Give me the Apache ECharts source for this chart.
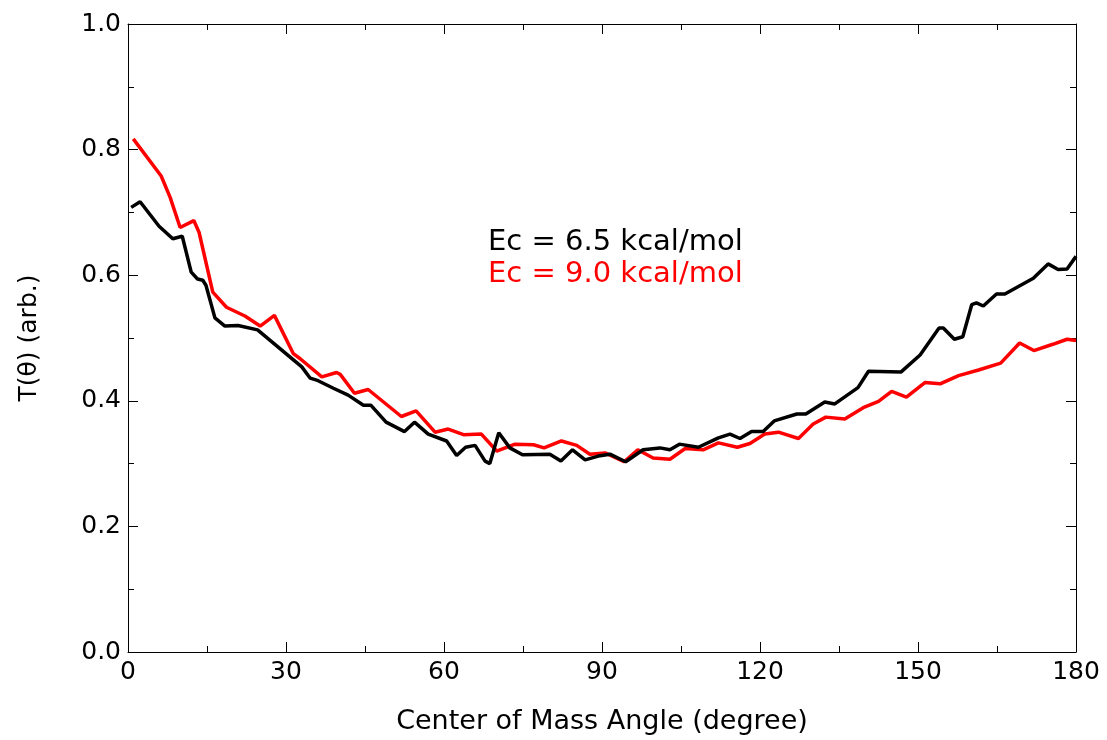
<!DOCTYPE html>
<html>
<head>
<meta charset="utf-8">
<script src="https://cdn.jsdelivr.net/npm/echarts@6/dist/echarts.min.js"></script>
<style>
  html, body { margin: 0; padding: 0; background: #fff; }
  #main { width: 1107px; height: 740px; }
</style>
</head>
<body>
<div id="main"></div>
<script>
// Ec = 6.5 kcal/mol (black)
var angleLow = [0.6, 2.3, 5.9, 8.5, 10.3, 12, 13.2, 14.2, 14.8, 16.5, 18.4, 20.9, 24.6, 33, 34.6, 36.1, 39, 41.8, 44.7, 46.1,
  49, 52.5, 54.4, 57, 60.5, 62.4, 64.1, 65.9, 67.8, 68.7, 70.4, 72.5, 74.9, 80.1, 82.2, 84.4, 86.8, 89.3, 91.5, 94.5,
  97.8, 101, 102.9, 104.7, 108.3, 112.1, 114.3, 116.2, 118.4, 120.6, 122.7, 127, 128.7, 132.3, 134.2, 138.6, 140.6, 146.8,
  150.4, 154, 154.8, 156.9, 158.5, 160.2, 161.1, 162.4, 164.9, 166.5, 171.9, 174.7, 176.6, 178.3, 180];
var tLow = [0.708, 0.717, 0.678, 0.658, 0.662, 0.605, 0.594, 0.592, 0.584, 0.532, 0.519, 0.520, 0.513, 0.454, 0.436, 0.432, 0.420, 0.409, 0.393, 0.393,
  0.366, 0.351, 0.366, 0.347, 0.336, 0.313, 0.326, 0.329, 0.304, 0.300, 0.349, 0.325, 0.314, 0.315, 0.304, 0.322, 0.306, 0.312, 0.315, 0.303,
  0.322, 0.325, 0.322, 0.331, 0.326, 0.341, 0.347, 0.340, 0.351, 0.351, 0.368, 0.379, 0.379, 0.398, 0.395, 0.421, 0.447, 0.446,
  0.473, 0.516, 0.516, 0.498, 0.502, 0.553, 0.556, 0.551, 0.570, 0.570, 0.595, 0.618, 0.609, 0.610, 0.630];

// Ec = 9.0 kcal/mol (red)
var angleHigh = [1.0, 6.3, 8.0, 9.9, 12.5, 13.5, 16.1, 18.7, 22.2, 25.1, 27.8, 31.4, 32.7, 36.8, 39.6, 40.3, 43, 45.6, 51.9, 54.7,
  58.3, 60.8, 63.7, 67.1, 70, 73.5, 77, 79, 82.3, 85.2, 87.7, 90.6, 94.2, 96.8, 99.7, 102.9, 105.8, 109.2, 112.1, 115.7,
  118.1, 120.9, 123.5, 127.3, 130.1, 132.5, 136.1, 139.6, 142.5, 145, 147.8, 151.3, 154.2, 157.7, 161.5, 165.7, 169.3, 172,
  175.6, 178.3, 180];
var tHigh = [0.817, 0.758, 0.724, 0.676, 0.687, 0.668, 0.573, 0.549, 0.535, 0.519, 0.536, 0.475, 0.467, 0.438, 0.445, 0.442, 0.412, 0.418, 0.375, 0.384,
  0.350, 0.355, 0.346, 0.347, 0.320, 0.331, 0.330, 0.325, 0.336, 0.329, 0.315, 0.317, 0.303, 0.322, 0.309, 0.307, 0.324, 0.322, 0.333, 0.326,
  0.332, 0.347, 0.350, 0.340, 0.363, 0.374, 0.371, 0.389, 0.399, 0.415, 0.406, 0.429, 0.427, 0.440, 0.449, 0.460, 0.492, 0.480,
  0.490, 0.498, 0.496];

var labelLow = 'Ec = 6.5 kcal/mol';
var labelHigh = 'Ec = 9.0 kcal/mol';

function pairs(xs, ys) {
  var out = [];
  for (var i = 0; i < xs.length; i++) out.push([xs[i], ys[i]]);
  return out;
}

var font = 'DejaVu Sans';
var chart = echarts.init(document.getElementById('main'));

var tickStyle = { show: true, inside: true, length: 10, lineStyle: { color: '#000', width: 1 } };
var minorStyle = { show: true, splitNumber: 2, length: 6, lineStyle: { color: '#000', width: 1 } };

var option = {
  animation: false,
  grid: { left: 128, right: 31, top: 24, bottom: 85, containLabel: false },
  xAxis: [
    {
      type: 'value', min: 0, max: 180, interval: 30,
      name: 'Center of Mass Angle (degree)', nameLocation: 'middle', nameGap: 56,
      nameTextStyle: { fontFamily: font, fontSize: 27, color: '#000' },
      axisLine: { show: true, lineStyle: { color: '#000', width: 1 } },
      axisTick: tickStyle, minorTick: minorStyle,
      axisLabel: { fontFamily: font, fontSize: 25, color: '#000', margin: 8 },
      splitLine: { show: false }
    },
    {
      type: 'value', min: 0, max: 180, interval: 30, position: 'top',
      axisLine: { show: true, onZero: false, lineStyle: { color: '#000', width: 1 } },
      axisTick: tickStyle, minorTick: minorStyle,
      axisLabel: { show: false }, splitLine: { show: false }
    }
  ],
  yAxis: [
    {
      type: 'value', min: 0, max: 1, interval: 0.2,
      name: 'T(θ) (arb.)', nameLocation: 'middle', nameGap: 86,
      nameTextStyle: { fontFamily: font, fontSize: 25, color: '#000' },
      axisLine: { show: true, lineStyle: { color: '#000', width: 1 } },
      axisTick: tickStyle, minorTick: minorStyle,
      axisLabel: { fontFamily: font, fontSize: 25, color: '#000', margin: 7,
        formatter: function (v) { return v.toFixed(1); } },
      splitLine: { show: false }
    },
    {
      type: 'value', min: 0, max: 1, interval: 0.2, position: 'right',
      axisLine: { show: true, onZero: false, lineStyle: { color: '#000', width: 1 } },
      axisTick: tickStyle, minorTick: minorStyle,
      axisLabel: { show: false }, splitLine: { show: false }
    }
  ],
  graphic: [
    { type: 'text', left: 488, top: 228, style: { text: labelLow, fontFamily: font, fontSize: 29, fill: '#000' } },
    { type: 'text', left: 488, top: 260, style: { text: labelHigh, fontFamily: font, fontSize: 29, fill: '#ff0000' } }
  ],
  series: [
    {
      name: labelLow, type: 'line', data: pairs(angleLow, tLow),
      showSymbol: false, lineStyle: { color: '#000', width: 3.5 }, z: 3
    },
    {
      name: labelHigh, type: 'line', data: pairs(angleHigh, tHigh),
      showSymbol: false, lineStyle: { color: '#ff0000', width: 3.5 }, z: 2
    }
  ]
};

chart.setOption(option);
</script>
</body>
</html>
